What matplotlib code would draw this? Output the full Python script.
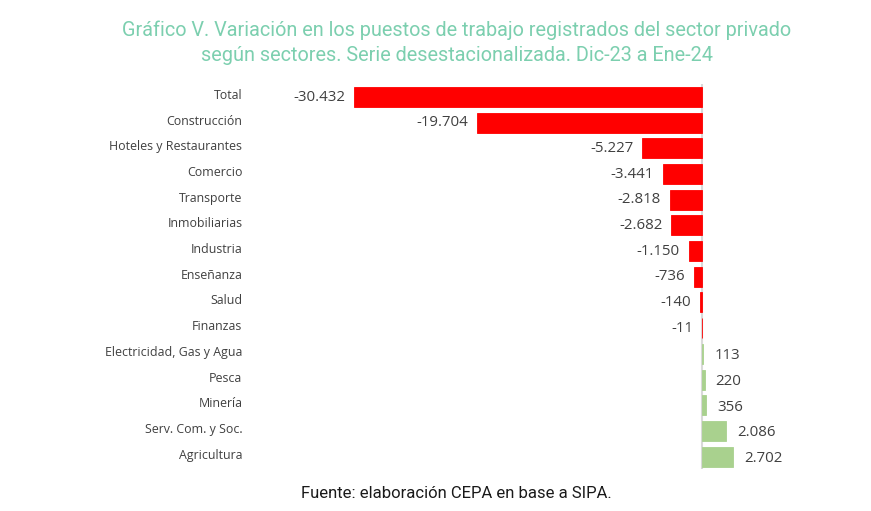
import matplotlib
matplotlib.use("Agg")
import matplotlib.pyplot as plt
import matplotlib.transforms as mtransforms

categories = ["Total", "Construcción", "Hoteles y Restaurantes", "Comercio", "Transporte",
              "Inmobiliarias", "Industria", "Enseñanza", "Salud", "Finanzas",
              "Electricidad, Gas y Agua", "Pesca", "Minería", "Serv. Com. y Soc.", "Agricultura"]
values = [-30432, -19704, -5227, -3441, -2818, -2682, -1150, -736, -140, -11,
          113, 220, 356, 2086, 2702]
labels = ["-30.432", "-19.704", "-5.227", "-3.441", "-2.818", "-2.682", "-1.150", "-736",
          "-140", "-11", "113", "220", "356", "2.086", "2.702"]

W, H = 871, 511
fig = plt.figure(figsize=(W/100, H/100), dpi=100)
left_px, right_px = 250, 800
top_px, bot_px = 84.2, 469.4
ax = fig.add_axes([left_px/W, 1-bot_px/H, (right_px-left_px)/W, (bot_px-top_px)/H])

scale = 348/30432
ax.set_xlim(-(702-left_px)/scale, (right_px-702)/scale)
ax.set_ylim(14.5, -0.5)

colors = ["#FF0000" if v < 0 else "#A9D18E" for v in values]
y = list(range(len(categories)))
ax.barh(y, values, height=0.78, color=colors, edgecolor=colors, linewidth=0.6, zorder=2)
ax.axvline(0, color="#D9D9D9", lw=1.5, zorder=1)

for yi, v, lab in zip(y, values, labels):
    if v < 0:
        ax.annotate(lab, (v, yi), xytext=(-6.5, 0), textcoords="offset points",
                    ha="right", va="center", fontsize=10.8, color="#404040",
                    family="Open Sans")
    else:
        ax.annotate(lab, (v, yi), xytext=(8, -1.5), textcoords="offset points",
                    ha="left", va="center", fontsize=10.8, color="#404040",
                    family="Open Sans")

ax.set_yticks(y)
ax.set_yticklabels(categories, fontsize=8.9, color="#404040", family="Open Sans")
ax.tick_params(axis="y", length=0, pad=5.5)
shift = mtransforms.ScaledTranslation(0, 3/100, fig.dpi_scale_trans)
for t in ax.get_yticklabels():
    t.set_transform(t.get_transform() + shift)
ax.set_xticks([])
for s in ax.spines.values():
    s.set_visible(False)

fig.text(457/W, 1-30/H, "Gráfico V. Variación en los puestos de trabajo registrados del sector privado",
         ha="center", va="center", fontsize=14.3, color="#7CCFAF", family="Roboto")
fig.text(457/W, 1-55/H, "según sectores. Serie desestacionalizada. Dic-23 a Ene-24",
         ha="center", va="center", fontsize=14.3, color="#7CCFAF", family="Roboto")
fig.text(456/W, 1-493/H, "Fuente: elaboración CEPA en base a SIPA.",
         ha="center", va="center", fontsize=12, color="#1a1a1a", family="Roboto")

fig.savefig("out.png", dpi=100)
